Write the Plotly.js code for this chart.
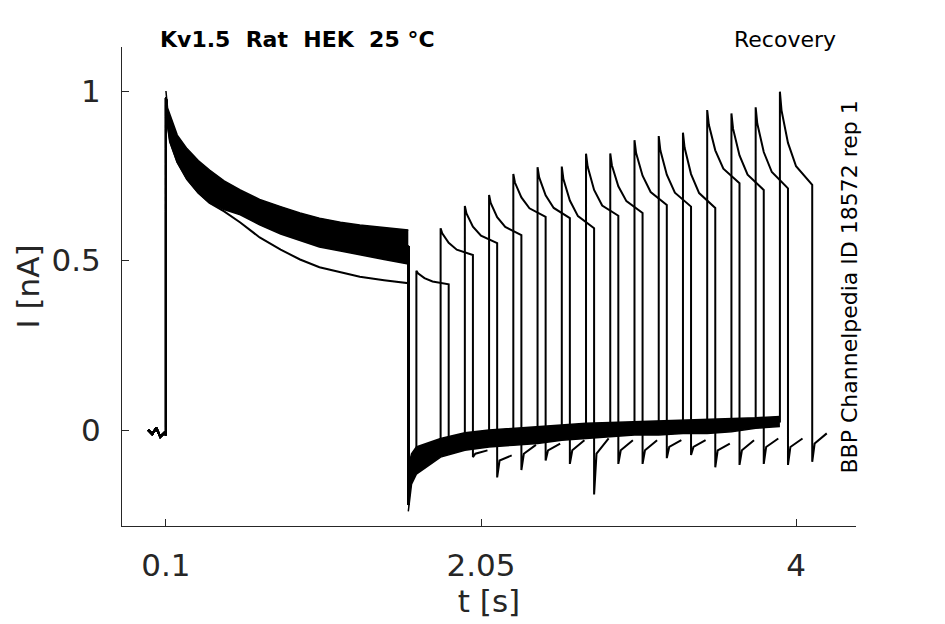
<!DOCTYPE html>
<html>
<head>
<meta charset="utf-8">
<script src="https://cdn.plot.ly/plotly-3.0.1.min.js"></script>
<style>
  html, body { margin: 0; padding: 0; background: #fff; }
  #chart { width: 945px; height: 624px; }
</style>
</head>
<body>
<div id="chart"></div>
<script>
"use strict";

// Holding current before the conditioning step
var baseT = [-0.01, 0.015, 0.04, 0.065, 0.09, 0.1]
var baseI = [0.0, -0.012, 0.006, -0.02, -0.008, -0.015]

// Conditioning pulse (0.1 - 1.6 s): envelope of the overlaid sweeps
var bandT = [0.1, 0.11, 0.125, 0.17, 0.23, 0.3, 0.37, 0.46, 0.56, 0.68, 0.81, 0.93, 1.05, 1.18, 1.3, 1.45, 1.6]
var bandHi = [1.0, 0.95, 0.93, 0.87, 0.83, 0.795, 0.767, 0.735, 0.708, 0.68, 0.659, 0.64, 0.625, 0.613, 0.605, 0.597, 0.59]
var bandLo = [0.96, 0.9, 0.85, 0.79, 0.74, 0.7, 0.67, 0.65, 0.635, 0.605, 0.578, 0.558, 0.54, 0.528, 0.516, 0.503, 0.49]
// First sweep runs below the rest
var firstI = [0.96, 0.9, 0.85, 0.79, 0.74, 0.7, 0.67, 0.645, 0.612, 0.568, 0.532, 0.503, 0.48, 0.465, 0.452, 0.442, 0.433]

// Tail after the step back at 1.6 s
var tailT = [1.6, 1.605, 1.62, 1.65, 1.8, 1.95, 2.1, 2.25, 2.4, 2.55, 2.7, 2.85, 3.0, 3.15, 3.3, 3.45, 3.6, 3.75, 3.9]
var tailHi = [-0.2, -0.1, -0.07, -0.05, -0.025, -0.008, 0.0, 0.005, 0.01, 0.015, 0.02, 0.022, 0.024, 0.026, 0.028, 0.03, 0.032, 0.036, 0.04]
var tailLo = [-0.24, -0.22, -0.16, -0.13, -0.08, -0.06, -0.05, -0.045, -0.04, -0.03, -0.025, -0.02, -0.015, -0.015, -0.01, -0.01, -0.005, 0.005, 0.01]

// Test pulses (0.2 s long), one per sweep
var testStart = [1.65, 1.8, 1.95, 2.1, 2.25, 2.4, 2.55, 2.7, 2.85, 3.0, 3.15, 3.3, 3.45, 3.6, 3.75, 3.9]
var testPeak = [0.47, 0.595, 0.661, 0.693, 0.755, 0.775, 0.777, 0.815, 0.816, 0.855, 0.867, 0.877, 0.944, 0.934, 0.952, 0.998]
var testI01 = [0.462, 0.58, 0.639, 0.67, 0.73, 0.745, 0.74, 0.777, 0.781, 0.817, 0.825, 0.833, 0.901, 0.889, 0.904, 0.943]
var testI05 = [0.448, 0.552, 0.6, 0.628, 0.686, 0.692, 0.677, 0.708, 0.719, 0.75, 0.753, 0.755, 0.825, 0.81, 0.82, 0.847]
var testI10 = [0.438, 0.532, 0.573, 0.599, 0.654, 0.655, 0.631, 0.662, 0.675, 0.702, 0.7, 0.699, 0.771, 0.753, 0.761, 0.778]
var testEnd = [0.43, 0.516, 0.551, 0.575, 0.629, 0.625, 0.595, 0.632, 0.64, 0.664, 0.659, 0.655, 0.728, 0.708, 0.713, 0.723]

// Tail hook after each test pulse
var hookLow = [-0.07, -0.08, -0.14, -0.118, -0.09, -0.1, -0.19, -0.1, -0.1, -0.083, -0.074, -0.11, -0.103, -0.1, -0.103, -0.094]
var hookMid = [-0.06, -0.07, -0.09, -0.07, -0.06, -0.06, -0.07, -0.06, -0.06, -0.05, -0.05, -0.06, -0.06, -0.05, -0.05, -0.04]
var hookEnd = [-0.05, -0.06, -0.075, -0.044, -0.04, -0.03, -0.025, -0.03, -0.03, -0.03, -0.03, -0.04, -0.03, -0.025, -0.025, -0.01]

var xTicks = [0.1, 2.05, 4]
var xTickText = ["0.1", "2.05", "4"]
var yTicks = [0, 0.5, 1]
var yTickText = ["0", "0.5", "1"]

var FONT = "DejaVu Sans"
var INK = "#262626"

var traces = []

// Envelopes of the overlaid sweeps (filled black)
function band(xs, hi, lo){
  traces.push({x: xs, y: hi, mode: "lines", line: {color: "#000", width: 1.5},
    hoverinfo: "skip", showlegend: false})
  traces.push({x: xs, y: lo, mode: "lines", line: {color: "#000", width: 1.5},
    fill: "tonexty", fillcolor: "#000", hoverinfo: "skip", showlegend: false})
}
band(bandT, bandHi, bandLo)
band(tailT, tailHi, tailLo)

// Each sweep as one line
for (var k = 0; k < testStart.length; k++){
  var xs = baseT.slice()
  var ys = baseI.slice()

  for (var i = 0; i < bandT.length; i++){
    xs.push(bandT[i])
    ys.push(k === 0 ? firstI[i] : (bandHi[i] + bandLo[i]) / 2)
  }

  var s = testStart[k]
  for (var j = 0; j < tailT.length && tailT[j] <= s + 1e-9; j++){
    xs.push(tailT[j])
    ys.push((tailHi[j] + tailLo[j]) / 2)
  }

  xs.push(s, s + 0.01, s + 0.05, s + 0.1, s + 0.2, s + 0.2, s + 0.215, s + 0.29)
  ys.push(testPeak[k], testI01[k], testI05[k], testI10[k], testEnd[k], hookLow[k], hookMid[k], hookEnd[k])

  traces.push({
    x: xs, y: ys, mode: "lines",
    line: {color: "#000", width: 2},
    hoverinfo: "skip", showlegend: false
  })
}

var axisCommon = {
  showline: true, linecolor: INK, linewidth: 1,
  ticks: "inside", ticklen: 7, tickcolor: INK, tickwidth: 1,
  showgrid: false, zeroline: false,
  tickfont: {family: FONT, size: 31, color: INK}
}

var layout = {
  width: 945, height: 624,
  margin: {l: 122, r: 89, t: 47, b: 98},
  paper_bgcolor: "#fff", plot_bgcolor: "#fff",
  showlegend: false,
  xaxis: Object.assign({}, axisCommon, {
    range: [-0.172, 4.371],
    tickmode: "array", tickvals: xTicks, ticktext: xTickText,
    ticklabelstandoff: 12,
    title: {text: "t [s]", font: {family: FONT, size: 31, color: INK}, standoff: 6}
  }),
  yaxis: Object.assign({}, axisCommon, {
    range: [-0.2832, 1.1298],
    tickmode: "array", tickvals: yTicks, ticktext: yTickText,
    ticklabelstandoff: 14,
    title: {text: "I [nA]", font: {family: FONT, size: 31, color: INK}, standoff: 2}
  }),
  annotations: [
    {text: "<b>Kv1.5\u00a0 Rat\u00a0 HEK\u00a0 25 °C</b>", xref: "paper", yref: "paper",
      x: 0.049, y: 1.0167, xanchor: "left", yanchor: "middle", showarrow: false,
      font: {family: FONT, size: 22, color: "#000"}},
    {text: "Recovery", xref: "paper", yref: "paper",
      x: 0.9755, y: 1.0167, xanchor: "right", yanchor: "middle", showarrow: false,
      font: {family: FONT, size: 22, color: "#000"}},
    {text: "BBP Channelpedia ID 18572 rep 1", xref: "paper", yref: "paper",
      x: 0.9918, y: 0.5, xanchor: "center", yanchor: "middle", textangle: -90,
      showarrow: false, font: {family: FONT, size: 22, color: "#000"}}
  ]
}

Plotly.newPlot("chart", traces, layout, {staticPlot: true, displayModeBar: false})
</script>
</body>
</html>
